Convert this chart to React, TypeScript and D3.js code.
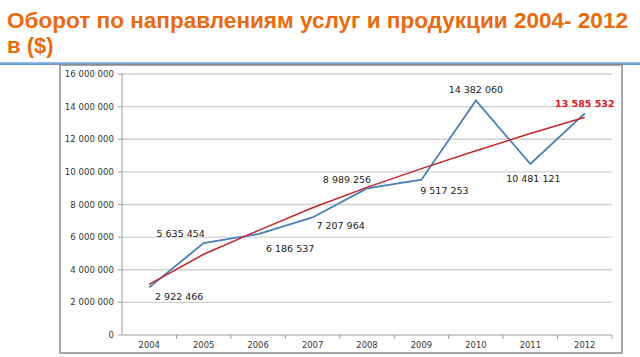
import React from "react";
import * as d3 from "d3";

const years = ["2004", "2005", "2006", "2007", "2008", "2009", "2010", "2011", "2012"];
const turnover = [2922466, 5635454, 6186537, 7207964, 8989256, 9517253, 14382060, 10481121, 13585532];
const trend = [3100000, 4950000, 6400000, 7800000, 9050000, 10200000, 11300000, 12350000, 13350000];
const yTicks = [0, 2000000, 4000000, 6000000, 8000000, 10000000, 12000000, 14000000, 16000000];
const titleLine1 = "Оборот по направлениям услуг и продукции 2004- 2012";
const titleLine2 = "в ($)";

const fmt = (v: number) => d3.format(",")(v).replace(/,/g, " ");

export default function App() {
  const W = 640, H = 357;
  const left = 122, right = 612, top = 74, bottom = 335;
  const x = d3.scaleBand<string>().domain(years).range([left, right]);
  const y = d3.scaleLinear().domain([0, 16000000]).range([bottom, top]);
  const cx = (d: string) => (x(d) as number) + x.bandwidth() / 2;

  const line = d3.line<number>().x((_, i) => cx(years[i])).y((v) => y(v));

  // label offsets (dx, dy) relative to each point
  const offs: [number, number][] = [
    [30, 9], [-23, -10], [32, 14], [28, 8], [-20, -9], [23, 11], [0, -11], [3, 14], [0, -10],
  ];
  const font = "'DejaVu Sans', Verdana, sans-serif";

  return (
    <svg width={W} height={H} style={{ position: "absolute", left: 0, top: 0, display: "block" }}>
      <defs>
        <linearGradient id="bl" x1="0" x2="0" y1="0" y2="1">
          <stop offset="0" stopColor="#9cc3e6" />
          <stop offset="1" stopColor="#5b8fc7" />
        </linearGradient>
      </defs>
      <rect x={0} y={0} width={W} height={H} fill="#fff" />
      <text x={7} y={28} fontFamily="'Liberation Sans', Arial, sans-serif" fontWeight="bold" fontSize={22}
        fill="#EA6A10" textLength={621} lengthAdjust="spacingAndGlyphs">{titleLine1}</text>
      <text x={7} y={53} fontFamily="'Liberation Sans', Arial, sans-serif" fontWeight="bold" fontSize={22}
        fill="#EA6A10">{titleLine2}</text>
      <rect x={0} y={62} width={W} height={3} fill="url(#bl)" />
      <rect x={60} y={65} width={562} height={288} fill="#fff" stroke="#8a8a8a" strokeWidth={1.5} />
      {yTicks.map((t) => (
        <g key={t}>
          {t > 0 && <line x1={left} x2={right} y1={y(t)} y2={y(t)} stroke="#cfcfcf" strokeWidth={1.4} />}
          <line x1={left - 4} x2={left} y1={y(t)} y2={y(t)} stroke="#9a9a9a" />
          <text x={left - 8} y={y(t) + 3} textAnchor="end" fontFamily={font} fontSize={8.6} fill="#333">{fmt(t)}</text>
        </g>
      ))}
      <line x1={left} x2={left} y1={top} y2={bottom} stroke="#9a9a9a" />
      <line x1={left} x2={right} y1={bottom} y2={bottom} stroke="#9a9a9a" />
      {years.map((yr) => (
        <g key={yr}>
          <line x1={(x(yr) as number) + x.bandwidth()} x2={(x(yr) as number) + x.bandwidth()} y1={bottom} y2={bottom + 4} stroke="#9a9a9a" />
          <text x={cx(yr)} y={348} textAnchor="middle" fontFamily={font} fontSize={8.4} fill="#333">{yr}</text>
        </g>
      ))}
      <path d={line(turnover) || ""} fill="none" stroke="#4A7EBB" strokeWidth={1.8} />
      <path d={line(trend) || ""} fill="none" stroke="#C0262C" strokeWidth={1.5} />
      {turnover.map((v, i) => {
        const last = i === turnover.length - 1;
        return (
          <text key={i} x={cx(years[i]) + offs[i][0]} y={y(v) + offs[i][1] + 3.5} textAnchor="middle"
            fontFamily={font} fontSize={9.5} fontWeight={last ? "bold" : "normal"}
            fill={last ? "#E0161E" : "#222"}>{fmt(v)}</text>
        );
      })}
    </svg>
  );
}
